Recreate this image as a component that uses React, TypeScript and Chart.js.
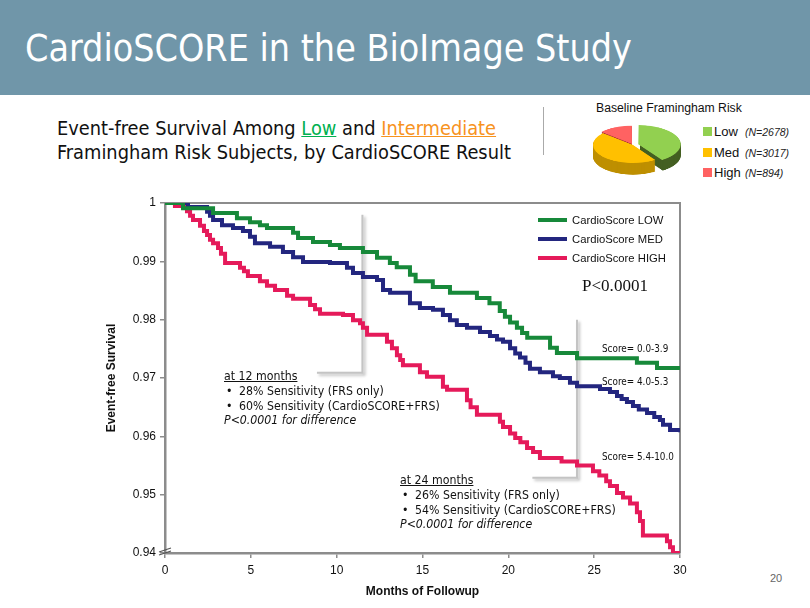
import React, { useEffect, useRef } from 'react';
import { Chart, registerables } from 'chart.js';
Chart.register(...registerables);

// ---------------- data ----------------
const seriesLabels = ['CardioScore LOW', 'CardioScore MED', 'CardioScore HIGH'];
const scoreRanges = ['Score= 0.0-3.9', 'Score= 4.0-5.3', 'Score= 5.4-10.0'];

const lowMonths = [0, 1.05, 2.8, 4.19, 4.95, 5.53, 5.94, 7.46, 7.75, 8.62, 9.61, 10.19, 11.53, 12.35, 13.1, 13.5, 14.27, 14.6, 15.6, 16.6, 18.17, 18.9, 19.5, 19.8, 20.1, 20.5, 20.8, 21.1, 22.43, 22.83, 24.0, 27.49, 28.66, 30];
const lowSurv = [1, 0.9991, 0.9983, 0.9974, 0.9967, 0.9962, 0.9957, 0.9949, 0.994, 0.9933, 0.9928, 0.9923, 0.9916, 0.9906, 0.9897, 0.989, 0.9877, 0.9866, 0.9856, 0.9846, 0.9837, 0.9828, 0.9815, 0.9805, 0.9795, 0.9786, 0.9777, 0.9769, 0.9752, 0.9743, 0.9734, 0.9726, 0.9717, 0.9717];

const medMonths = [0, 1.34, 2.45, 2.62, 2.8, 3.32, 3.96, 4.54, 4.95, 5.24, 6.12, 6.87, 7.46, 8.04, 9.61, 10.6, 10.95, 11.53, 12.35, 12.7, 13.11, 14.27, 14.85, 15.61, 16.19, 16.6, 17.0, 17.59, 18.35, 18.93, 19.34, 19.69, 20.1, 20.4, 20.68, 21.0, 21.26, 21.84, 22.6, 23.0, 23.59, 24.0, 25.34, 25.92, 26.33, 26.6, 26.91, 27.26, 27.6, 28.08, 28.5, 28.83, 29.01, 29.42, 30];
const medSurv = [1, 0.9993, 0.9985, 0.9978, 0.9971, 0.9962, 0.9957, 0.9952, 0.9942, 0.9931, 0.9925, 0.9916, 0.9907, 0.9899, 0.9897, 0.9889, 0.988, 0.9873, 0.9868, 0.9851, 0.9846, 0.9828, 0.982, 0.9817, 0.9808, 0.9799, 0.9791, 0.9786, 0.9779, 0.9772, 0.9766, 0.9762, 0.9751, 0.9742, 0.9735, 0.9726, 0.9716, 0.971, 0.9703, 0.97, 0.9692, 0.9686, 0.9681, 0.9676, 0.9669, 0.9664, 0.9659, 0.9652, 0.9646, 0.964, 0.9633, 0.9628, 0.962, 0.9611, 0.9607];

const highMonths = [0, 0.58, 1.28, 1.46, 1.63, 2.04, 2.27, 2.45, 2.62, 2.8, 3.09, 3.26, 3.5, 4.37, 4.6, 4.83, 5.53, 5.94, 6.41, 7.11, 7.46, 8.45, 8.74, 9.03, 10.37, 10.95, 11.36, 11.53, 11.77, 12.93, 13.22, 13.51, 13.7, 13.86, 14.85, 15.26, 16.19, 16.43, 17.59, 17.8, 18.17, 19.51, 19.69, 20.1, 20.4, 20.7, 21.09, 21.44, 21.84, 23.1, 24.0, 24.93, 25.3, 25.7, 25.92, 26.33, 26.68, 27.09, 27.49, 27.67, 27.84, 29.24, 29.42, 29.59, 30];
const highSurv = [1, 0.9995, 0.9986, 0.9978, 0.9971, 0.9961, 0.9952, 0.9945, 0.9937, 0.9931, 0.9923, 0.9913, 0.9897, 0.9889, 0.9883, 0.9875, 0.9866, 0.9858, 0.9851, 0.9841, 0.9836, 0.9825, 0.9818, 0.981, 0.9808, 0.9799, 0.9794, 0.9786, 0.9774, 0.9762, 0.9751, 0.9739, 0.9731, 0.9722, 0.971, 0.9702, 0.9685, 0.968, 0.9662, 0.965, 0.9637, 0.9625, 0.9616, 0.9605, 0.9597, 0.959, 0.958, 0.9573, 0.9563, 0.9557, 0.955, 0.954, 0.9533, 0.9523, 0.9515, 0.9503, 0.9495, 0.9485, 0.947, 0.9455, 0.943, 0.942, 0.941, 0.94, 0.94];

const xTickValues = [0, 5, 10, 15, 20, 25, 30];
const yTickValues = [0.94, 0.95, 0.96, 0.97, 0.98, 0.99, 1];

const riskGroups = ['Low', 'Med', 'High'];
const riskN = [2678, 3017, 894];

const calloutMonths = [11.5, 24];
const calloutTop = [0.998, 0.98];
const calloutBottom = [0.9709, 0.9529];
const calloutLeft = [8.85, 21.4];

// ---------------- styles ----------------
const seriesColors = ['#17893A', '#23267F', '#E51A5A'];
const riskColors = ['#92D050', '#FFC000', '#FF6262'];
const riskSideColors = ['#445F22', '#BE8F00', '#A83434'];
const TAHOMA = "'DejaVu Sans Condensed', 'DejaVu Sans', sans-serif";
const ARIAL = "'Liberation Sans', Arial, sans-serif";
const TIMES = "'Liberation Serif', 'Times New Roman', serif";

let _mctx: CanvasRenderingContext2D | null = null;
function fit(text: string, style: string, family: string, target: number): number {
  if (!_mctx) _mctx = document.createElement('canvas').getContext('2d');
  _mctx!.font = `${style} 100px ${family}`;
  return (100 * target) / _mctx!.measureText(text).width;
}

function T(props: { x: number; cy: number; size: number; family: string; color?: string; style?: any; children: any }) {
  const { x, cy, size, family, color, style, children } = props;
  return (
    <div
      style={{
        position: 'absolute',
        left: x,
        top: cy - size * 0.48,
        fontSize: size,
        lineHeight: `${size}px`,
        fontFamily: family,
        color: color || '#000',
        whiteSpace: 'nowrap',
        ...style,
      }}
    >
      {children}
    </div>
  );
}

const framePlugin = {
  id: 'frame',
  beforeDatasetsDraw(chart: any) {
    const { ctx, chartArea: a, scales } = chart;
    const x = scales.x;
    const y = scales.y;
    ctx.save();
    for (let i = 0; i < calloutMonths.length; i++) {
      const px = x.getPixelForValue(calloutMonths[i]);
      const top = y.getPixelForValue(calloutTop[i]);
      const bot = y.getPixelForValue(calloutBottom[i]);
      const lx = x.getPixelForValue(calloutLeft[i]);
      ctx.shadowColor = 'rgba(0,0,0,0.28)';
      ctx.shadowBlur = 3;
      ctx.shadowOffsetX = 2;
      ctx.shadowOffsetY = 2;
      ctx.strokeStyle = '#c4c4c4';
      ctx.lineWidth = 2;
      ctx.beginPath();
      ctx.moveTo(px, top);
      ctx.lineTo(px, bot);
      ctx.lineTo(lx, bot);
      ctx.stroke();
    }
    ctx.shadowColor = 'transparent';
    ctx.strokeStyle = '#8c8c8c';
    ctx.lineWidth = 2;
    ctx.beginPath();
    ctx.moveTo(a.left, a.top);
    ctx.lineTo(a.right, a.top);
    ctx.lineTo(a.right, a.bottom);
    ctx.stroke();
    ctx.restore();
  },
  afterDraw(chart: any) {
    const { ctx, chartArea: a } = chart;
    ctx.save();
    ctx.strokeStyle = '#555';
    ctx.lineWidth = 1.2;
    ctx.beginPath();
    ctx.moveTo(a.left - 6, a.bottom - 1);
    ctx.lineTo(a.left + 6, a.bottom - 5);
    ctx.moveTo(a.left - 6, a.bottom + 2);
    ctx.lineTo(a.left + 6, a.bottom - 2);
    ctx.stroke();
    ctx.restore();
  },
};

const DEPTH = 26;
const pieDepthPlugin = {
  id: 'pieDepth',
  beforeDatasetsDraw(chart: any) {
    const meta = chart.getDatasetMeta(0);
    const ctx = chart.ctx;
    ctx.save();
    meta.data.forEach((el: any, i: number) => {
      const { x, y, startAngle, endAngle, outerRadius } = el.getProps(['x', 'y', 'startAngle', 'endAngle', 'outerRadius'], true);
      const off = el.options.offset || 0;
      const circ = endAngle - startAngle;
      const mid = (startAngle + endAngle) / 2;
      const t = (off / 4) * (1 + (1 - Math.sin(Math.min(Math.PI, circ))));
      const cx = x + Math.cos(mid) * t;
      const cy = y + Math.sin(mid) * t;
      ctx.fillStyle = riskSideColors[i];
      for (let d = DEPTH; d >= 1; d--) {
        ctx.beginPath();
        ctx.moveTo(cx, cy + d);
        ctx.arc(cx, cy + d, outerRadius, startAngle, endAngle);
        ctx.closePath();
        ctx.fill();
      }
    });
    ctx.restore();
  },
};

export default function App() {
  const mainRef = useRef<HTMLCanvasElement>(null);
  const pieRef = useRef<HTMLCanvasElement>(null);

  useEffect(() => {
    const series = [
      { months: lowMonths, surv: lowSurv },
      { months: medMonths, surv: medSurv },
      { months: highMonths, surv: highSurv },
    ];
    const main = new Chart(mainRef.current as HTMLCanvasElement, {
      type: 'line',
      data: {
        datasets: series.map((s, k) => ({
          label: seriesLabels[k],
          data: s.months.map((m, i) => ({ x: m, y: s.surv[i] })),
          borderColor: seriesColors[k],
          backgroundColor: seriesColors[k],
          borderWidth: 4,
          stepped: true,
          pointRadius: 0,
          fill: false,
          borderJoinStyle: 'miter',
        })),
      } as any,
      options: {
        animation: false,
        responsive: false,
        maintainAspectRatio: false,
        events: [],
        layout: { padding: { top: 13, right: 30, bottom: 0, left: 0 } },
        plugins: { legend: { display: false }, tooltip: { enabled: false } },
        scales: {
          x: {
            type: 'linear',
            min: 0,
            max: 30,
            afterBuildTicks: (s: any) => {
              s.ticks = xTickValues.map((v) => ({ value: v }));
            },
            afterFit: (s: any) => {
              s.height = 52;
            },
            grid: { display: true, drawOnChartArea: false, drawTicks: true, tickLength: 5, color: '#8c8c8c', lineWidth: 1.5 },
            border: { display: true, color: '#8c8c8c', width: 2.5 },
            ticks: { color: '#111', font: { size: 12, family: ARIAL }, padding: 5, maxRotation: 0, autoSkip: false },
            title: {
              display: true,
              text: 'Months of Followup',
              color: '#111',
              font: { size: 12, weight: 'bold', family: ARIAL },
              padding: { top: 0, bottom: 6 },
            },
          },
          y: {
            type: 'linear',
            min: 0.94,
            max: 1,
            afterBuildTicks: (s: any) => {
              s.ticks = yTickValues.map((v) => ({ value: v }));
            },
            afterFit: (s: any) => {
              s.width = 85;
            },
            grid: { display: true, drawOnChartArea: false, drawTicks: true, tickLength: 5, color: '#8c8c8c', lineWidth: 1.5 },
            border: { display: true, color: '#8c8c8c', width: 2.5 },
            ticks: {
              color: '#111',
              font: { size: 12, family: ARIAL },
              padding: 4,
              autoSkip: false,
              callback: (v: any) => (Number(v) === 1 ? '1' : Number(v).toFixed(2)),
            },
            title: {
              display: true,
              text: 'Event-free Survival',
              color: '#111',
              font: { size: 12, weight: 'bold', family: ARIAL },
              padding: { top: 24, bottom: 0 },
            },
          },
        },
      } as any,
      plugins: [framePlugin],
    });

    const pie = new Chart(pieRef.current as HTMLCanvasElement, {
      type: 'pie',
      data: {
        labels: riskGroups,
        datasets: [{ data: riskN, backgroundColor: riskColors, borderWidth: 0, offset: [22, 0, 9.6] }],
      } as any,
      options: {
        animation: false,
        responsive: false,
        maintainAspectRatio: false,
        events: [],
        layout: { padding: { top: 0, left: 0, right: 0, bottom: 28 } },
        plugins: { legend: { display: false }, tooltip: { enabled: false } },
      } as any,
      plugins: [pieDepthPlugin],
    });

    return () => {
      main.destroy();
      pie.destroy();
    };
  }, []);

  const titleSize = fit('CardioSCORE in the BioImage Study', '', TAHOMA, 607);
  const subSize = fit('Framingham Risk Subjects, by CardioSCORE Result', '', TAHOMA, 454);
  const noteSize = fit('60% Sensitivity (CardioSCORE+FRS)', '', TAHOMA, 201);
  const scoreSize = fit('Score= 5.4-10.0', '', TAHOMA, 72);
  const legSize = fit('CardioScore HIGH', '', ARIAL, 94);
  const pSize = fit('P<0.0001', '', TIMES, 66);
  const pieTitleSize = fit('Baseline Framingham Risk', '', ARIAL, 146);

  const notes = [
    { x: 224, cys: [376, 391, 405.5, 420], head: 'at 12 months', b1: '28% Sensitivity (FRS only)', b2: '60% Sensitivity (CardioSCORE+FRS)' },
    { x: 400, cys: [480, 495, 509.5, 524], head: 'at 24 months', b1: '26% Sensitivity (FRS only)', b2: '54% Sensitivity (CardioSCORE+FRS)' },
  ];
  const scoreCys = [349, 382, 457];
  const legCys = [220, 239, 258];
  const pieLegCys = [131, 152, 172];

  return (
    <div style={{ position: 'fixed', left: 0, top: 0, width: 810, height: 608, background: '#fff', overflow: 'hidden' }}>
      <div style={{ position: 'absolute', left: 0, top: 0, width: 810, height: 95, background: '#7096A9' }} />
      <T x={25} cy={48} size={titleSize} family={TAHOMA} color="#fff">
        CardioSCORE in the BioImage Study
      </T>

      <T x={57} cy={129} size={subSize} family={TAHOMA} color="#111">
        Event-free Survival Among{' '}
        <span style={{ color: '#00B050', textDecoration: 'underline' }}>Low</span> and{' '}
        <span style={{ color: '#F7931E', textDecoration: 'underline' }}>Intermediate</span>
      </T>
      <T x={57} cy={153} size={subSize} family={TAHOMA} color="#111">
        Framingham Risk Subjects, by CardioSCORE Result
      </T>

      <div style={{ position: 'absolute', left: 543, top: 107, width: 1, height: 48, background: '#aaa' }} />

      <T x={596} cy={108} size={pieTitleSize} family={ARIAL} color="#111">
        Baseline Framingham Risk
      </T>
      <canvas
        ref={pieRef}
        width={102}
        height={130}
        style={{ position: 'absolute', left: 582, top: 122, width: 102, height: 130, transform: 'scaleY(0.45)', transformOrigin: 'top left' }}
      />
      {riskGroups.map((g, i) => (
        <React.Fragment key={g}>
          <div style={{ position: 'absolute', left: 703, top: pieLegCys[i] - 4.5, width: 9, height: 9, background: riskColors[i] }} />
          <T x={714} cy={pieLegCys[i]} size={13} family={ARIAL} color="#111">
            {g}
          </T>
          <T x={745} cy={pieLegCys[i] + 1.5} size={10.5} family={ARIAL} color="#222" style={{ fontStyle: 'italic' }}>
            {`(N=${riskN[i]})`}
          </T>
        </React.Fragment>
      ))}

      <canvas ref={mainRef} width={630} height={415} style={{ position: 'absolute', left: 80, top: 190, width: 630, height: 415 }} />

      {seriesLabels.map((l, i) => (
        <React.Fragment key={l}>
          <div style={{ position: 'absolute', left: 538, top: legCys[i] - 2, width: 29, height: 4, background: seriesColors[i] }} />
          <T x={572} cy={legCys[i]} size={legSize} family={ARIAL} color="#111">
            {l}
          </T>
        </React.Fragment>
      ))}
      <T x={582} cy={285} size={pSize} family={TIMES} color="#111">
        P&lt;0.0001
      </T>

      {scoreRanges.map((s, i) => (
        <T key={s} x={602} cy={scoreCys[i]} size={scoreSize} family={TAHOMA} color="#111">
          {s}
        </T>
      ))}

      {notes.map((n) => (
        <React.Fragment key={n.head}>
          <T x={n.x} cy={n.cys[0]} size={noteSize} family={TAHOMA} color="#111" style={{ textDecoration: 'underline' }}>
            {n.head}
          </T>
          <T x={n.x + 2} cy={n.cys[1]} size={noteSize} family={TAHOMA} color="#111">
            •
          </T>
          <T x={n.x + 15} cy={n.cys[1]} size={noteSize} family={TAHOMA} color="#111">
            {n.b1}
          </T>
          <T x={n.x + 2} cy={n.cys[2]} size={noteSize} family={TAHOMA} color="#111">
            •
          </T>
          <T x={n.x + 15} cy={n.cys[2]} size={noteSize} family={TAHOMA} color="#111">
            {n.b2}
          </T>
          <T x={n.x} cy={n.cys[3]} size={noteSize} family={TAHOMA} color="#111" style={{ fontStyle: 'italic' }}>
            P&lt;0.0001 for difference
          </T>
        </React.Fragment>
      ))}

      <T x={770} cy={578} size={11} family={ARIAL} color="#666">
        20
      </T>
    </div>
  );
}
